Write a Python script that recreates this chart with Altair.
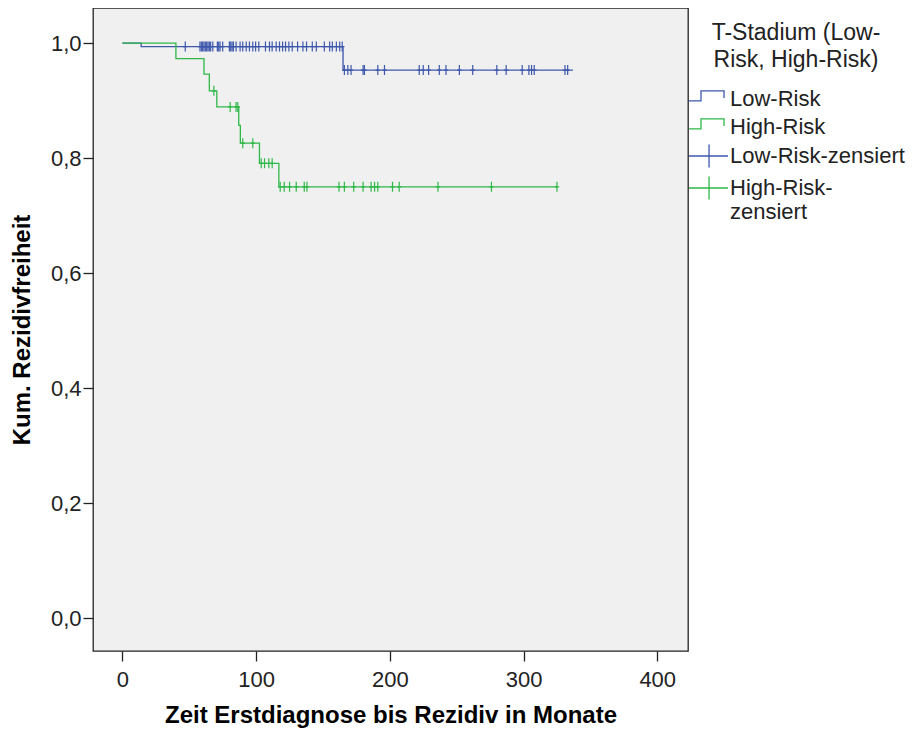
import altair as alt
import pandas as pd

# ---- data ----
keys = ["Low-Risk", "High-Risk", "Low-Risk-zensiert", "High-Risk-zensiert"]
colors = ["#3E58AC", "#2EB848", "#3E58AC", "#2EB848"]

# Kaplan-Meier steps (time in months, cumulative survival)
low_t = [0, 14, 165, 337]
low_s = [1.0, 0.994, 0.953, 0.953]
high_t = [0, 40, 61, 65, 70.6, 87, 88.2, 102.5, 117, 325]
high_s = [1.0, 0.973, 0.946, 0.917, 0.889, 0.857, 0.826, 0.791, 0.750, 0.750]

# censored observations
low_cens_t = [47, 58, 59, 60, 61, 62, 63, 64, 65, 66, 67.6, 71, 72, 73, 75, 80, 81, 82,
              83, 85, 88, 90, 92.6, 95, 97.5, 99.6, 102, 107, 110, 112, 115, 117.5,
              119.8, 122, 124.5, 127, 131, 135, 137.7, 142, 145, 151, 155, 157, 160,
              162.5, 164.4, 166, 168.6, 171, 180, 181, 191, 196, 222, 225, 229, 237,
              242, 252, 262, 280, 287, 299, 304, 306, 308, 331, 333]
high_cens_t = [68.4, 80.6, 85, 86.3, 90, 97.5, 103.8, 106.3, 109.5, 112, 118, 121, 125,
               130, 136, 138, 162, 166, 173, 180, 186, 188.6, 191, 202, 207, 236, 276, 325]

x_ticks = [0, 100, 200, 300, 400]
y_ticks = [0.0, 0.2, 0.4, 0.6, 0.8, 1.0]


def level(ts, ss, t):
    v = ss[0]
    for ti, si in zip(ts, ss):
        if ti <= t:
            v = si
    return v


lines_df = pd.DataFrame(
    [{"t": t, "s": s, "key": "Low-Risk"} for t, s in zip(low_t, low_s)]
    + [{"t": t, "s": s, "key": "High-Risk"} for t, s in zip(high_t, high_s)]
)
cens_df = pd.DataFrame(
    [{"t": t, "s": level(low_t, low_s, t), "key": "Low-Risk-zensiert"} for t in low_cens_t]
    + [{"t": t, "s": level(high_t, high_s, t), "key": "High-Risk-zensiert"} for t in high_cens_t]
)

# legend glyphs (unit = 12 px with symbolSize 576)
STEP = "M-1.5,0.15L-0.5,0.15L-0.5,-0.68L1.42,-0.68L1.42,-0.08"
CROSS = "M-1.5,0L1.75,0M0.17,-0.95L0.17,0.95"
shapes = [STEP, STEP, CROSS, CROSS]

FONT = "Liberation Sans, Arial, sans-serif"

xenc = alt.X(
    "t:Q",
    scale=alt.Scale(domain=[-22, 423], nice=False, zero=False),
    axis=alt.Axis(values=x_ticks, title="Zeit Erstdiagnose bis Rezidiv in Monate",
                  labelPadding=8, titlePadding=13, titleFontSize=24),
)
yenc = alt.Y(
    "s:Q",
    scale=alt.Scale(domain=[-0.057, 1.061], nice=False, zero=False),
    axis=alt.Axis(values=y_ticks, title="Kum. Rezidivfreiheit",
                  labelExpr="replace(format(datum.value, '.1f'), '.', ',')",
                  labelPadding=2, titlePadding=16, titleFontSize=24),
)


def cscale():
    return alt.Scale(domain=keys, range=colors)


leg = alt.Legend(
    title=["T-Stadium (Low-", "Risk, High-Risk)"],
    orient="none", legendX=595, legendY=14,
    titleAnchor="middle", titleAlign="center",
    titleFontWeight="normal", titleFontSize=23, titleLineHeight=27, titlePadding=14,
    labelFontSize=22, labelOffset=10, labelLimit=400,
    labelExpr="datum.label == 'High-Risk-zensiert' ? ['High-Risk-', 'zensiert'] : datum.label",
    symbolSize=576, symbolOffset=6, symbolStrokeWidth=1.3, symbolOpacity=1,
    rowPadding=4, padding=0,
)

lines = alt.Chart(lines_df).mark_line(interpolate="step-after", strokeWidth=1.3).encode(
    x=xenc, y=yenc, color=alt.Color("key:N", scale=cscale(), legend=None)
)
cens = alt.Chart(cens_df).mark_point(
    shape="M-0.45,0L0.45,0M0,-1L0,1", size=100, strokeWidth=1.2, filled=False, opacity=1
).encode(x=xenc, y=yenc, color=alt.Color("key:N", scale=cscale(), legend=None))
dummy = alt.Chart(cens_df).mark_point(opacity=0, filled=False).encode(
    x=xenc, y=yenc,
    color=alt.Color("key:N", scale=cscale(), legend=leg),
    shape=alt.Shape("key:N", scale=alt.Scale(domain=keys, range=shapes), legend=leg),
)

chart = (
    alt.layer(lines, cens, dummy)
    .resolve_scale(color="independent", shape="independent")
    .resolve_legend(color="independent", shape="independent")
    .properties(
        width=595, height=643,
        autosize=alt.AutoSizeParams(type="none"),
        padding={"left": 85, "top": 0, "right": 222, "bottom": 80},
        background="white",
    )
    .configure_view(fill="#F0F0F0", stroke="#222222", strokeWidth=1.3)
    .configure_axis(
        domain=False, grid=False, tickSize=10, tickColor="#222222", tickWidth=1.3,
        labelFont=FONT, labelFontSize=22, labelColor="#222222",
        titleFont=FONT, titleFontWeight="bold", titleColor="#000000",
    )
    .configure_legend(labelFont=FONT, titleFont=FONT, labelColor="#222222", titleColor="#222222")
)

chart.save("out.html", embed_options={"renderer": "svg", "actions": False})
